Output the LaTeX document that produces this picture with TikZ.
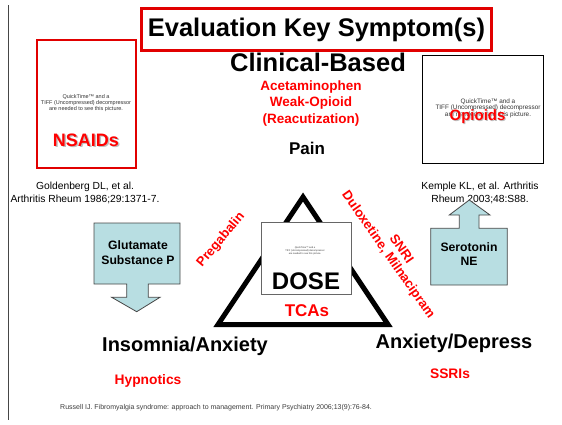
\documentclass[tikz,border=0pt]{standalone}
\usepackage{fontspec}
\setmainfont{Liberation Sans}
\definecolor{hot}{RGB}{255,0,0}
\definecolor{frame}{RGB}{225,0,0}
\definecolor{teal}{RGB}{184,222,226}
\definecolor{edge}{RGB}{70,70,70}
\definecolor{note}{RGB}{60,60,60}
\newcommand{\fsz}[2]{\fontsize{#1}{#2}\selectfont}
\begin{document}
\begin{tikzpicture}[x=1pt,y=-1pt,
  lbl/.style={inner sep=0pt, align=center, font=\bfseries},
  drug/.style={lbl, text=hot},
  qt/.style={inner sep=0pt, align=center, text=black!80},
  ref/.style={inner sep=0pt, align=center, text=black},
  pic/.style={draw, fill=white},
  arrowbox/.style={draw=edge, line width=0.8pt, fill=teal, line join=miter},
  tri/.style={draw=black, line width=5pt, line join=miter}]
\useasboundingbox (0,0) rectangle (562,424);

% left margin rule
\coordinate (ruleTop) at (8,5);
\coordinate (ruleBot) at (8,420);
\draw[edge, line width=1pt] (ruleTop) -- (ruleBot);

% title
\node[draw=frame, line width=3pt, minimum width=350pt, minimum height=42pt, inner sep=0pt,
      font=\fsz{25.5}{28}\bfseries] (title) at (316.5,29.5) {Evaluation Key Symptom(s)};
\node[lbl, font=\fsz{25.5}{28}\bfseries] (clinical) at (318,62) {Clinical-Based};

% picture placeholders
\node[pic, draw=frame, line width=1.3pt, minimum width=99pt, minimum height=128pt, inner sep=0pt] (nsaidBox) at (86.5,104) {};
\node[qt, font=\fsz{5.5}{6}] (nsaidQT) at (86,103) {QuickTime™ and a\\TIFF (Uncompressed) decompressor\\are needed to see this picture.};
\node[drug, text=black!25, font=\fsz{18}{20}\bfseries] (nsaidShadow) at (87.5,141.5) {NSAIDs};
\node[drug, font=\fsz{18}{20}\bfseries] (nsaid) at (86,140) {NSAIDs};

\node[pic, draw=black, line width=0.8pt, minimum width=121pt, minimum height=108pt, inner sep=0pt] (opioidBox) at (482.5,109) {};
\node[qt, font=\fsz{6.4}{6.6}] (opioidQT) at (488,108) {QuickTime™ and a\\TIFF (Uncompressed) decompressor\\are needed to see this picture.};
\node[drug, text=black!25, font=\fsz{15}{17}\bfseries] (opioidShadow) at (478.5,118) {Opioids};
\node[drug, font=\fsz{15}{17}\bfseries] (opioid) at (477.5,117) {Opioids};

% references
\node[ref, font=\fsz{10.3}{13}] (goldenberg) at (85,192.5) {Goldenberg DL, et al.\\Arthritis Rheum 1986;29:1371-7.};
\node[ref, font=\fsz{10.3}{13}] (kemple) at (480,192.5) {Kemple KL, et al. Arthritis\\Rheum 2003;48:S88.};

% clinical treatments
\node[drug, font=\fsz{13.5}{16.5}\bfseries] (aceta) at (311,103.5) {Acetaminophen\\Weak-Opioid\\(Reacutization)};
\node[lbl, font=\fsz{17}{19}\bfseries] (pain) at (307,148) {Pain};

% symptom triangle
\coordinate (apex) at (303,197);
\coordinate (baseL) at (218,324.5);
\coordinate (baseR) at (388,324.5);
\draw[tri] (apex) -- (baseL) -- (baseR) -- cycle;

\node[pic, draw=black!60, line width=0.8pt, minimum width=90pt, minimum height=72pt, inner sep=0pt] (doseBox) at (306,258) {};
\node[qt, font=\fsz{2.4}{2.9}] (doseQT) at (305,251) {QuickTime™ and a\\TIFF (Uncompressed) decompressor\\are needed to see this picture.};
\node[lbl, font=\fsz{24}{26}\bfseries] (dose) at (306,281.5) {DOSE};
\node[drug, font=\fsz{17}{19}\bfseries] (tca) at (307,311) {TCAs};

% drug labels along the triangle sides
\node[drug, rotate=50, font=\fsz{13}{15}\bfseries] (pregabalin) at (221,240) {Pregabalin};
\node[drug, rotate=-55, font=\fsz{13.2}{15}\bfseries] (dulox) at (388,255) {Duloxetine, Milnacipram};
\node[drug, rotate=-55, font=\fsz{13.2}{15}\bfseries] (snri) at (402,249) {SNRI};

% neurotransmitter arrows
\draw[arrowbox] (94,223) -- (180,223) -- (180,284) -- (148.3,284) -- (148.3,297.3) -- (160,297.3)
  -- (136.7,311.7) -- (111.7,297.3) -- (126.7,297.3) -- (126.7,284) -- (94,284) -- cycle;
\node[lbl, font=\fsz{12.2}{15}\bfseries] (glutamate) at (138,252.5) {Glutamate\\Substance P};

\draw[arrowbox] (430.7,285) -- (507.3,285) -- (507.3,228.3) -- (479,228.3) -- (479,215) -- (490,215)
  -- (469.3,200) -- (449.3,215) -- (459.3,215) -- (459.3,228.3) -- (430.7,228.3) -- cycle;
\node[lbl, font=\fsz{12.2}{14.5}\bfseries] (serotonin) at (469,254) {Serotonin\\NE};

% corner symptoms
\node[lbl, font=\fsz{20}{22}\bfseries] (insomnia) at (185,346) {Insomnia/Anxiety};
\node[lbl, font=\fsz{20}{22}\bfseries] (depress) at (454,343) {Anxiety/Depress};
\node[drug, font=\fsz{13.8}{15}\bfseries] (hypnotics) at (148,381) {Hypnotics};
\node[drug, font=\fsz{13.8}{15}\bfseries] (ssri) at (450,374) {SSRIs};

% source
\node[ref, text=note, anchor=west, font=\fsz{7}{8}] (source) at (60,408) {Russell IJ. Fibromyalgia syndrome: approach to management. Primary Psychiatry 2006;13(9):76-84.};
\end{tikzpicture}
\end{document}
